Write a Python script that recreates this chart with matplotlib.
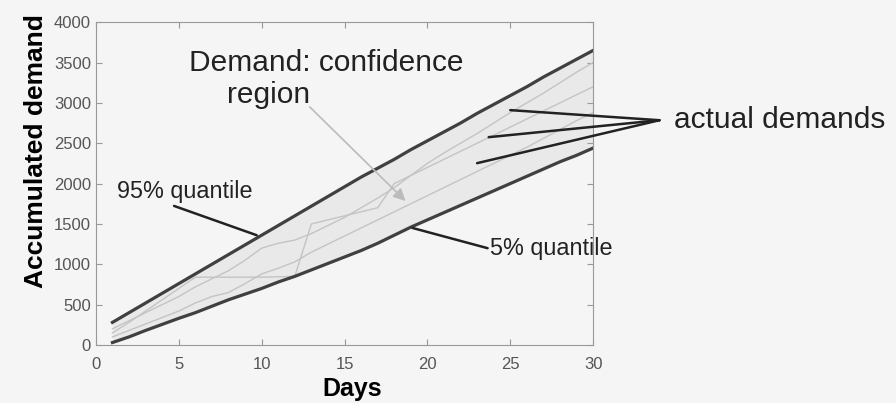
import numpy as np
import matplotlib.pyplot as plt

plt.rcParams['font.family'] = ['Liberation Sans', 'DejaVu Sans']

days = list(range(1, 31))
# 95% and 5% quantiles of the accumulated demand
q95 = [280, 400, 520, 640, 760, 880, 1000, 1120, 1240, 1360, 1480, 1600, 1720, 1840, 1960,
       2080, 2190, 2300, 2420, 2530, 2640, 2750, 2870, 2980, 3090, 3200, 3320, 3430, 3540, 3650]
q05 = [30, 100, 180, 255, 330, 400, 480, 560, 630, 700, 780, 850, 930, 1010, 1090,
       1170, 1260, 1360, 1460, 1550, 1640, 1730, 1820, 1910, 2000, 2090, 2180, 2270, 2350, 2440]
# actual demand paths
actual_a = [200, 300, 400, 500, 600, 720, 820, 920, 1050, 1200, 1260, 1300, 1380, 1480, 1580,
            1700, 1820, 1950, 2100, 2250, 2380, 2500, 2620, 2750, 2880, 3000, 3120, 3250, 3380, 3500]
actual_b = [150, 280, 420, 560, 700, 840, 840, 840, 840, 840, 845, 850, 1500, 1550, 1600,
            1650, 1700, 2000, 2100, 2200, 2300, 2400, 2500, 2600, 2700, 2800, 2900, 3000, 3100, 3200]
actual_c = [100, 180, 260, 340, 420, 520, 600, 650, 760, 880, 950, 1030, 1150, 1250, 1350,
            1450, 1550, 1650, 1750, 1850, 1950, 2050, 2150, 2250, 2350, 2450, 2560, 2670, 2780, 2880]

bg = '#f5f5f5'
fig = plt.figure(figsize=(8.96, 4.03), dpi=100, facecolor=bg)
ax = fig.add_axes([0.107, 0.144, 0.555, 0.801])
ax.set_facecolor(bg)

ax.fill_between(days, q05, q95, color='#e9e9e9', lw=0)
for path in [actual_a, actual_b, actual_c]:
    ax.plot(days, path, color='#c4c4c4', lw=1)
ax.plot(days, q95, color='#404040', lw=2.3)
ax.plot(days, q05, color='#404040', lw=2.3)

ax.set_xlim(0, 30)
ax.set_ylim(0, 4000)
ax.set_xticks(np.arange(0, 31, 5))
ax.set_yticks(np.arange(0, 4001, 500))
ax.tick_params(direction='in', top=True, right=True, length=4, color='#999999',
               labelcolor='#555555', labelsize=12)
ax.tick_params(axis='x', pad=9)
for s in ax.spines.values():
    s.set_color('#999999')
ax.set_xlabel('Days', fontsize=18, fontweight='bold')
ax.set_ylabel('Accumulated demand', fontsize=19, fontweight='bold')
ax.xaxis.set_label_coords(0.515, -0.10)
ax.yaxis.set_label_coords(-0.097, 0.60)

# annotations
ax.text(13.9, 3500, 'Demand: confidence', fontsize=21.5, ha='center', va='center',
        color='#222222')
ax.text(10.4, 3095, 'region', fontsize=21.5, ha='center', va='center', color='#222222')
ax.annotate('', xy=(18.8, 1760), xytext=(12.9, 2950),
            arrowprops=dict(arrowstyle='-|>', color='#bbbbbb', lw=1.2, mutation_scale=18,
                            shrinkA=0))
ax.annotate('95% quantile', xy=(9.7, 1360), xytext=(1.3, 1900), fontsize=16.8,
            va='center', color='#222222',
            arrowprops=dict(arrowstyle='-', color='#222222', lw=1.8, shrinkA=0, shrinkB=0,
                            relpos=(0.36, 0.0)))
ax.annotate('5% quantile', xy=(19.1, 1450), xytext=(23.8, 1190), fontsize=16.8,
            va='center', color='#222222',
            arrowprops=dict(arrowstyle='-', color='#222222', lw=1.8, shrinkA=0, shrinkB=0,
                            relpos=(0.0, 0.5)))
for end in [(25.0, 2910), (23.7, 2575), (23.0, 2253)]:
    ax.annotate('', xy=end, xytext=(34.0, 2785), annotation_clip=False,
                arrowprops=dict(arrowstyle='-', color='#222222', lw=1.8, shrinkA=0, shrinkB=0))
ax.text(34.9, 2785, 'actual demands', fontsize=21.5, va='center', color='#222222', clip_on=False)

plt.savefig('out.png', dpi=100, facecolor=bg)
